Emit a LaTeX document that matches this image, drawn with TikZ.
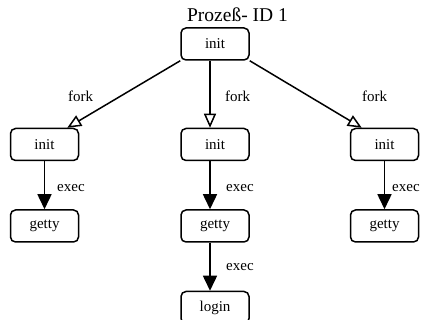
\documentclass[tikz,border=0pt]{standalone}
\usepackage{fontspec}
\setmainfont{Liberation Serif}
\usetikzlibrary{positioning,arrows.meta}

\begin{document}
\begin{tikzpicture}[x=1pt, y=-1pt, node distance = 48pt and 101pt,
  proc/.style = {draw, line width=1.5pt, rounded corners=5pt,
    minimum width=68pt, minimum height=32pt,
    font=\fontsize{15}{18}\selectfont},
  lbl/.style = {anchor=base west, inner sep=0pt,
    font=\fontsize{15}{18}\selectfont},
  fork/.style = {line width=1.5pt, -{Triangle[open, length=14pt, width=12pt]}},
  exec/.style = {line width=1.5pt, -{Triangle[length=15pt, width=14pt]}}
  ]
  \useasboundingbox (0,0) rectangle (421,320);
  \node (title) [anchor=base, inner sep=0pt,
    font=\fontsize{19.5}{22}\selectfont] at (237.5,22) {Prozeß- ID 1};
  \node (root) [proc] at (215,44) {init};
  \node (init2) [proc, below=67pt of root] {init};
  \node (init1) [proc, left=of init2] {init};
  \node (init3) [proc, right=100pt of init2] {init};
  \node (getty1) [proc, below=of init1] {getty};
  \node (getty2) [proc, below=of init2] {getty};
  \node (getty3) [proc, below=of init3] {getty};
  \node (login) [proc, below=of getty2] {login};

  % fork edges
  \draw[fork] (root.south west) -- ([xshift=-12pt]init1.north east);
  \draw[fork] ([xshift=-5pt]root.south) -- ([xshift=-5pt]init2.north);
  \draw[fork] (root.south east) -- ([xshift=12pt]init3.north west);
  % exec edges
  \draw[exec] (init1) -- (getty1);
  \draw[exec] ([xshift=-5pt]init2.south) -- ([xshift=-5pt]getty2.north);
  \draw[exec] ([xshift=-5pt]getty2.south) -- ([xshift=-5pt]login.north);
  \draw[exec] (init3) -- (getty3);

  \node (forkL) [lbl] at (68,102) {fork};
  \node (forkM) [lbl] at (225,102) {fork};
  \node (forkR) [lbl] at (362,102) {fork};
  \node (execL) [lbl] at (57,192) {exec};
  \node (execM) [lbl] at (226,192) {exec};
  \node (execR) [lbl] at (392,192) {exec};
  \node (execB) [lbl] at (226,271) {exec};
\end{tikzpicture}
\end{document}
